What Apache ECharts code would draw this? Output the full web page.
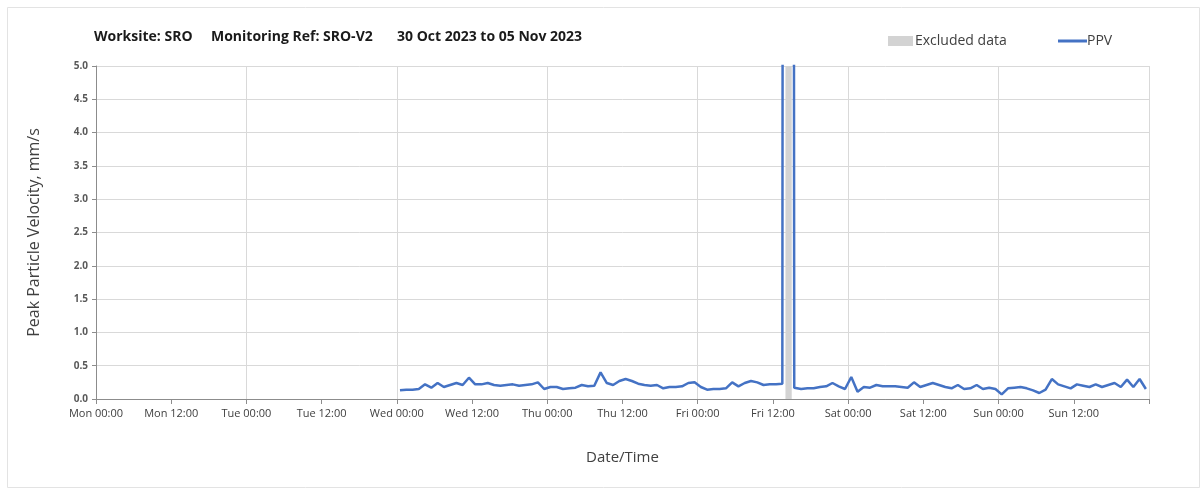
<!DOCTYPE html>
<html>
<head>
<meta charset="utf-8">
<script src="https://cdn.jsdelivr.net/npm/echarts@6/dist/echarts.min.js"></script>
<style>
  html, body { margin: 0; padding: 0; background: #ffffff; }
  #chart { width: 1203px; height: 490px; }
</style>
</head>
<body>
<div id="chart"></div>
<script>
// X axis runs in hours from Mon 30 Oct 2023 00:00 to Mon 06 Nov 2023 00:00.
const xTickLabels = ['Mon 00:00', 'Mon 12:00', 'Tue 00:00', 'Tue 12:00', 'Wed 00:00', 'Wed 12:00',
  'Thu 00:00', 'Thu 12:00', 'Fri 00:00', 'Fri 12:00', 'Sat 00:00', 'Sat 12:00', 'Sun 00:00', 'Sun 12:00'];

// Hourly PPV readings (mm/s), first reading at Wed 00:30 (hour 48.5).
const ppvBeforeStart = 48.5;
const ppvBefore = [
  0.13, 0.14, 0.14, 0.15, 0.22, 0.17, 0.24, 0.18, 0.21, 0.24, 0.21, 0.32,
  0.22, 0.22, 0.24, 0.21, 0.20, 0.21, 0.22, 0.20, 0.21, 0.22, 0.25, 0.15,
  0.18, 0.18, 0.15, 0.16, 0.17, 0.21, 0.19, 0.20, 0.40, 0.24, 0.21, 0.27,
  0.30, 0.27, 0.23, 0.21, 0.20, 0.21, 0.16, 0.18, 0.18, 0.19, 0.24, 0.25,
  0.18, 0.14, 0.15, 0.15, 0.16, 0.25, 0.19, 0.24, 0.27, 0.25, 0.21, 0.22,
  0.22, 0.23
];

// Off-scale readings around the excluded period on Friday afternoon.
const spikeHours = [109.6, 111.3, 111.4];
const spikeValues = [12.0, 12.0, 0.17];

// Hourly PPV readings after the excluded period, first at Fri 16:30 (hour 112.5).
const ppvAfterStart = 112.5;
const ppvAfter = [
  0.15, 0.16, 0.16, 0.18, 0.19, 0.24, 0.19, 0.15, 0.33, 0.11, 0.18, 0.17,
  0.21, 0.19, 0.19, 0.19, 0.18, 0.17, 0.25, 0.18, 0.21, 0.24, 0.21, 0.18,
  0.16, 0.21, 0.15, 0.16, 0.21, 0.15, 0.17, 0.15,
  0.07, 0.16, 0.17, 0.18, 0.16, 0.13, 0.09, 0.14, 0.30, 0.22, 0.19, 0.16,
  0.22, 0.20, 0.18, 0.22, 0.18, 0.21, 0.24, 0.18, 0.29, 0.18, 0.30, 0.15
];

// Excluded data window: Fri 14:00 to Fri 15:00.
const excludedRange = [110, 111];

const ppvData = [];
ppvBefore.forEach((v, i) => ppvData.push([ppvBeforeStart + i, v]));
spikeHours.forEach((h, i) => ppvData.push([h, spikeValues[i]]));
ppvAfter.forEach((v, i) => ppvData.push([ppvAfterStart + i, v]));

const FONT = '"Open Sans", Lato, sans-serif';
const TITLE_STYLE = { fontFamily: FONT, fontSize: 14, fontWeight: 'bold', color: '#1a1a1a' };
const chart = echarts.init(document.getElementById('chart'), null, { renderer: 'canvas' });

chart.setOption({
  backgroundColor: '#ffffff',
  animation: false,
  title: [
    { text: 'Worksite: SRO', left: 94, top: 30, padding: 0, textStyle: TITLE_STYLE },
    { text: 'Monitoring Ref: SRO-V2', left: 211, top: 30, padding: 0, textStyle: TITLE_STYLE },
    { text: '30 Oct 2023 to 05 Nov 2023', left: 397, top: 30, padding: 0, textStyle: TITLE_STYLE }
  ],
  legend: [
    { data: ['Excluded data'], left: 888, top: 34, padding: 0, icon: 'rect', itemWidth: 25, itemHeight: 10,
      itemGap: 4, textStyle: { fontFamily: FONT, fontSize: 14, color: '#404040', padding: [0, 0, 0, -3] } },
    { data: ['PPV'], left: 1058, top: 34, padding: 0, icon: 'rect', itemWidth: 29, itemHeight: 3,
      textStyle: { fontFamily: FONT, fontSize: 14, color: '#404040', padding: [0, 0, 0, -5] } }
  ],
  graphic: [
    { type: 'rect', left: 5, top: 5, shape: { width: 1192, height: 480 }, silent: true,
      style: { fill: 'none', stroke: '#e3e3e3', lineWidth: 1 } }
  ],
  grid: { left: 96, right: 54, top: 66, bottom: 91 },
  xAxis: [
    {
      type: 'value', min: 0, max: 168, interval: 12,
      name: 'Date/Time', nameLocation: 'middle', nameGap: 51,
      nameTextStyle: { fontFamily: FONT, fontSize: 15, color: '#404040' },
      axisLine: { lineStyle: { color: '#8c8c8c', width: 1 } },
      axisTick: { show: true, length: 5, lineStyle: { color: '#8c8c8c' } },
      axisLabel: {
        fontFamily: FONT, fontSize: 11, color: '#404040', margin: 9,
        formatter: v => xTickLabels[Math.round(v / 12)] || ''
      },
      splitLine: { show: false }
    },
    {
      type: 'value', min: 0, max: 168, interval: 24, position: 'bottom',
      axisLine: { show: false }, axisTick: { show: false }, axisLabel: { show: false },
      splitLine: { show: true, lineStyle: { color: '#d9d9d9', width: 1 } }
    }
  ],
  yAxis: {
    type: 'value', min: 0, max: 5, interval: 0.5,
    name: 'Peak Particle Velocity, mm/s', nameLocation: 'middle', nameGap: 54,
    nameTextStyle: { fontFamily: FONT, fontSize: 16, color: '#404040' },
    axisLine: { show: true, lineStyle: { color: '#8c8c8c', width: 1 } },
    axisTick: { show: true, length: 4, lineStyle: { color: '#8c8c8c' } },
    axisLabel: { fontFamily: FONT, fontSize: 10, fontWeight: 'bold', color: '#595959', margin: 8,
      formatter: v => v.toFixed(1) },
    splitLine: { show: true, lineStyle: { color: '#d9d9d9', width: 1 } }
  },
  series: [
    {
      name: 'Excluded data', type: 'line', data: [], color: '#d3d3d3',
      itemStyle: { color: '#d3d3d3' },
      markArea: {
        silent: true,
        itemStyle: { color: '#d3d3d3', opacity: 1 },
        data: [[{ xAxis: excludedRange[0] }, { xAxis: excludedRange[1] }]]
      },
      z: 1
    },
    {
      name: 'PPV', type: 'line', data: ppvData, showSymbol: false, symbol: 'none',
      color: '#4472c4', lineStyle: { color: '#4472c4', width: 2.5 }, clip: true, z: 3
    }
  ]
});
</script>
</body>
</html>
